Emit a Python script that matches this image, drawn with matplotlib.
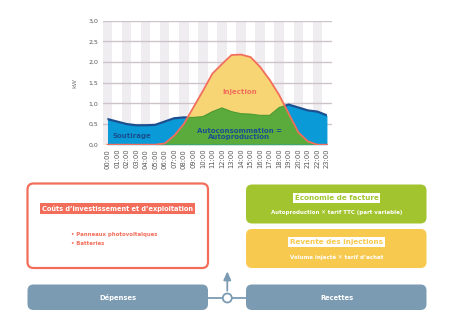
import numpy as np
import matplotlib
matplotlib.use("Agg")
from matplotlib import pyplot as plt
from matplotlib.patches import FancyBboxPatch, Circle

# data
hours = list(range(24))
hour_labels = ["%02d:00" % h for h in hours]
consumption = [0.62, 0.56, 0.50, 0.47, 0.47, 0.48, 0.56, 0.64, 0.66, 0.66, 0.68, 0.80,
               0.89, 0.80, 0.75, 0.74, 0.71, 0.71, 0.90, 0.97, 0.90, 0.83, 0.80, 0.71]
production = [0.0, 0.0, 0.0, 0.0, 0.0, 0.0, 0.03, 0.22, 0.50, 0.90, 1.30, 1.72,
              1.95, 2.17, 2.18, 2.12, 1.88, 1.57, 1.20, 0.75, 0.30, 0.08, 0.0, 0.0]
y_ticks = [0.0, 0.5, 1.0, 1.5, 2.0, 2.5, 3.0]

blue = "#0a9ad8"
dark_blue = "#1b4f8f"
green = "#5aab3c"
dark_green = "#4c9a33"
yellow = "#f8d574"
red = "#f26e5a"
band = "#f0edf0"
grid_c = "#cdc3ca"
slate = "#7b9bb3"
lime = "#a2c52f"
gold = "#f8c94f"

W, H = 473, 329
fig = plt.figure(figsize=(W / 100, H / 100), dpi=100)

# ---- area chart ----
ax = fig.add_axes([102.7 / W, 1 - 144.7 / H, 229 / W, 124 / H])
h = np.array(hours)
c = np.array(consumption)
p = np.array(production)

for k in hours[::2]:
    ax.axvspan(k - 0.5, k + 0.5, color=band, lw=0, zorder=0)
for t in y_ticks[1:]:
    ax.axhline(t, color=grid_c, lw=1, zorder=1)

# yellow = production, blue = consumption, green = overlap of both
ax.fill_between(h, 0, p, color=yellow, lw=0, zorder=2)
cons_area = ax.fill_between(h, 0, c, color=blue, lw=0, zorder=3)
prod_green = ax.fill_between(h, 0, p, color=green, lw=0, zorder=4)
prod_green.set_clip_path(cons_area.get_paths()[0], ax.transData)

above_prod = ax.fill_between(h, p, 3.5, color="none", lw=0)
below_prod = ax.fill_between(h, -0.5, p, color="none", lw=0)
line_c, = ax.plot(h, c, color=dark_blue, lw=1.6, zorder=5)
line_c.set_clip_path(above_prod.get_paths()[0], ax.transData)
line_g, = ax.plot(h, c, color=dark_green, lw=0.8, zorder=5)
line_g.set_clip_path(below_prod.get_paths()[0], ax.transData)
ax.plot(h, p, color=red, lw=1.3, zorder=6)

ax.text(2.6, 0.22, "Soutirage", color=dark_blue, fontsize=5, fontweight="bold",
        ha="center", va="center", zorder=7)
ax.text(13.9, 1.28, "Injection", color=red, fontsize=5, fontweight="bold",
        ha="center", va="center", zorder=7)
ax.text(13.8, 0.26, "Autoconsommation =\nAutoproduction", color=dark_blue, fontsize=5,
        fontweight="bold", ha="center", va="center", linespacing=1.0, zorder=7)

ax.set_xlim(-0.5, 23.5)
ax.set_ylim(0, 3.0)
ax.set_xticks(hours)
ax.set_xticklabels(hour_labels, rotation=90, fontsize=4.9, color="#555555")
ax.set_yticks(y_ticks)
ax.set_yticklabels([("%.1f" % t).replace(".", ",") for t in y_ticks], fontsize=4.5,
                   color="#555555")
ax.tick_params(length=0, pad=3)
ax.set_ylabel("kW", fontsize=4.5, color="#777777", labelpad=8)
for s in ax.spines.values():
    s.set_visible(False)

# ---- diagram below ----
d = fig.add_axes([0, 0, 1, 1])
d.set_xlim(0, W)
d.set_ylim(H, 0)
d.axis("off")


def box(x0, y0, x1, y1, fc, ec, lw=0):
    d.add_patch(FancyBboxPatch((x0, y0), x1 - x0, y1 - y0,
                               boxstyle="round,pad=0,rounding_size=6",
                               fc=fc, ec=ec, lw=lw))


box(27.5, 183.5, 208, 268, "white", red, 1.6)
d.text(117.5, 208.5, "Coûts d\u2019investissement et d\u2019exploitation", color="white",
       fontsize=4.75, fontweight="bold", ha="center", va="center",
       bbox=dict(fc=red, ec="none", pad=1.6))
d.text(71, 234.5, "\u2022 Panneaux photovoltaïques", color=red, fontsize=3.9,
       fontweight="bold", va="center")
d.text(71, 243.8, "\u2022 Batteries", color=red, fontsize=3.9, fontweight="bold", va="center")

box(246, 184.5, 426.5, 223.5, lime, "none")
d.text(336.5, 197.8, "Économie de facture", color=lime, fontsize=5.2, fontweight="bold",
       ha="center", va="center", bbox=dict(fc="white", ec="none", pad=1.4))
d.text(336.5, 212.3, "Autoproduction \u2715 tarif TTC (part variable)", color="white",
       fontsize=4.0, fontweight="bold", ha="center", va="center")

box(246, 229, 426.5, 268, gold, "none")
d.text(336.5, 242.3, "Revente des injections", color=gold, fontsize=5.2, fontweight="bold",
       ha="center", va="center", bbox=dict(fc="white", ec="none", pad=1.4))
d.text(336.5, 257, "Volume injecté \u2715 tarif d\u2019achat", color="white",
       fontsize=4.0, fontweight="bold", ha="center", va="center")

box(27.5, 284.5, 208, 310, slate, "none")
box(246, 284.5, 426.5, 310, slate, "none")
d.text(117.5, 297.5, "Dépenses", color="white", fontsize=4.9, fontweight="bold",
       ha="center", va="center")
d.text(336.5, 297.5, "Recettes", color="white", fontsize=4.9, fontweight="bold",
       ha="center", va="center")

d.plot([208, 246], [298, 298], color=slate, lw=1.3, zorder=1)
d.add_patch(Circle((227.3, 298), 4.5, fc="white", ec=slate, lw=1.3, zorder=2))
d.annotate("", xy=(227.3, 268.5), xytext=(227.3, 293.5),
           arrowprops=dict(arrowstyle="-|>,head_length=0.5,head_width=0.22",
                           color=slate, lw=1.3))

fig.savefig("out.png", dpi=100)
